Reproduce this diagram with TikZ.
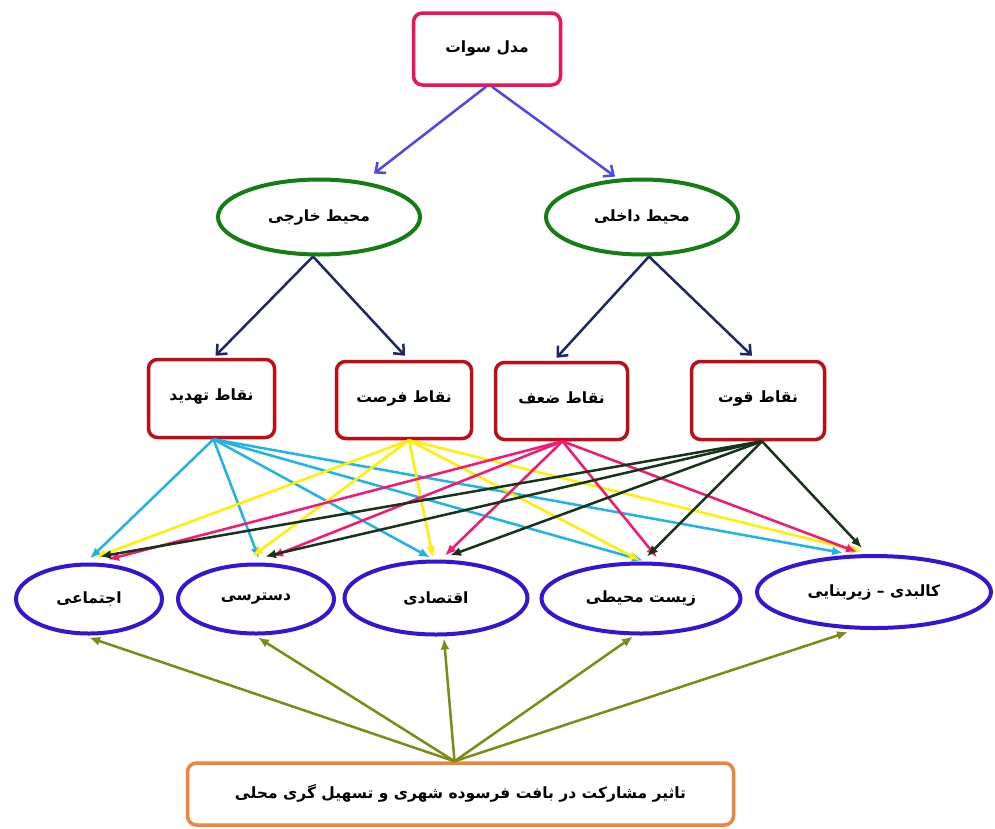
\documentclass[tikz,border=0pt]{standalone}
\usepackage{fontspec}
\newfontfamily\fafont[Script=Arabic]{DejaVu Sans}
\TeXXeTstate=1
\usetikzlibrary{shapes.geometric,arrows.meta}
\newcommand{\fatxt}[1]{{\fafont\bfseries\fontsize{15.5}{18}\selectfont\beginR #1\endR}}
\definecolor{cTop}{RGB}{236,20,85}
\definecolor{cGreen}{RGB}{22,125,22}
\definecolor{cBlueArr}{RGB}{75,70,240}
\definecolor{cNavy}{RGB}{30,40,100}
\definecolor{cRed}{RGB}{192,12,22}
\definecolor{cCyan}{RGB}{30,180,232}
\definecolor{cYellow}{RGB}{255,240,0}
\definecolor{cPink}{RGB}{250,22,110}
\definecolor{cDkGreen}{RGB}{22,52,25}
\definecolor{cViolet}{RGB}{55,20,212}
\definecolor{cOlive}{RGB}{120,140,22}
\definecolor{cOrange}{RGB}{240,132,62}
\tikzset{
  topbox/.style={draw=cTop, line width=3.5pt, rounded corners=9pt, fill=white, inner sep=0pt},
  swotbox/.style={draw=cRed, line width=3.5pt, rounded corners=9pt, fill=white, inner sep=0pt},
  envell/.style={ellipse, draw=cGreen, line width=4pt, fill=white, inner sep=0pt},
  dimell/.style={ellipse, draw=cViolet, line width=4pt, fill=white, inner sep=0pt},
  basebox/.style={draw=cOrange, line width=3.5pt, rounded corners=9pt, fill=white, inner sep=0pt},
  barbarr/.style={line width=2.5pt, -{Straight Barb[length=8pt,width=14pt]}},
  fillarr/.style={line width=2.5pt, -{Latex[length=11pt,width=9pt]}},
}
\begin{document}
\begin{tikzpicture}[x=1pt,y=-1pt]
\useasboundingbox (0,0) rectangle (995,828);
\fill[white] (0,0) rectangle (995,828);

% nodes
\node[topbox, minimum width=147pt, minimum height=72pt] (top) at (487,49) {\raisebox{4pt}{\fatxt{مدل سوات}}};
\node[envell, minimum width=202pt, minimum height=75pt] (ext) at (319,217) {\fatxt{محیط خارجی}};
\node[envell, minimum width=192pt, minimum height=75pt] (int) at (642,217) {\fatxt{محیط داخلی}};

\node[swotbox, minimum width=126pt, minimum height=78pt] (T) at (211.5,398.5) {\raisebox{7pt}{\fatxt{نقاط تهدید}}};
\node[swotbox, minimum width=135pt, minimum height=77pt] (O) at (404,400) {\raisebox{7pt}{\fatxt{نقاط فرصت}}};
\node[swotbox, minimum width=132pt, minimum height=77pt] (W) at (561.5,401) {\raisebox{7pt}{\fatxt{نقاط ضعف}}};
\node[swotbox, minimum width=133pt, minimum height=78pt] (S) at (758,400.5) {\raisebox{7pt}{\fatxt{نقاط قوت}}};

\node[dimell, minimum width=146pt, minimum height=69pt] (e1) at (89,599) {\fatxt{اجتماعی}};
\node[dimell, minimum width=156pt, minimum height=69pt] (e2) at (256,599) {\fatxt{دسترسی}};
\node[dimell, minimum width=183pt, minimum height=73pt] (e3) at (436,598) {\fatxt{اقتصادی}};
\node[dimell, minimum width=199pt, minimum height=70pt] (e4) at (641,598.5) {\fatxt{زیست محیطی}};
\node[dimell, minimum width=234pt, minimum height=72pt] (e5) at (874,592) {\fatxt{کالبدی – زیربنایی}};

\node[basebox, minimum width=546pt, minimum height=62pt] (base) at (460.5,794) {\raisebox{5pt}{\fatxt{تاثیر مشارکت در بافت فرسوده شهری و تسهیل گری محلی}}};

% top level arrows
\draw[barbarr, cBlueArr] ([xshift=-1pt]top.south) -- ([xshift=55pt,yshift=4pt]ext.north);
\draw[barbarr, cBlueArr] ([xshift=5pt]top.south) -- ([xshift=-27pt,yshift=1pt]int.north);

\draw[barbarr, cNavy] ([xshift=-6pt]ext.south) -- ([xshift=4pt,yshift=2pt]T.north);
\draw[barbarr, cNavy] ([xshift=-6pt]ext.south) -- ([xshift=1pt,yshift=4pt]O.north);
\draw[barbarr, cNavy] ([xshift=7pt]int.south) -- ([xshift=-5pt,yshift=3pt]W.north);
\draw[barbarr, cNavy] ([xshift=7pt]int.south) -- ([xshift=-6pt,yshift=4pt]S.north);

% threats (cyan)
\draw[fillarr, cCyan] ([xshift=2pt]T.south) -- ([xshift=1pt,yshift=4pt]e1.north);
\draw[fillarr, cCyan] ([xshift=2pt]T.south) -- ([xshift=3pt,yshift=4pt]e2.north);
\draw[fillarr, cCyan] ([xshift=2pt]T.south) -- ([xshift=-6pt,yshift=2pt]e3.north);
\draw[fillarr, cCyan] ([xshift=2pt]T.south) -- ([xshift=2pt,yshift=1pt]e4.north);
\draw[fillarr, cCyan] ([xshift=2pt]T.south) -- ([xshift=-31pt,yshift=1pt]e5.north);

% opportunities (yellow)
\draw[fillarr, cYellow] ([xshift=5pt]O.south) -- ([xshift=6pt,yshift=5pt]e1.north);
\draw[fillarr, cYellow] ([xshift=5pt]O.south) -- ([xshift=-4pt,yshift=6pt]e2.north);
\draw[fillarr, cYellow] ([xshift=5pt]O.south) -- ([xshift=-3pt,yshift=2pt]e3.north);
\draw[fillarr, cYellow] ([xshift=5pt]O.south) -- ([xshift=-1pt,yshift=1pt]e4.north);
\draw[fillarr, cYellow] ([xshift=5pt]O.south) -- ([xshift=-12pt,yshift=2pt]e5.north);

% weaknesses (pink)
\draw[fillarr, cPink] ([xshift=1pt]W.south) -- ([xshift=19pt,yshift=3pt]e1.north);
\draw[fillarr, cPink] ([xshift=1pt]W.south) -- ([xshift=16pt,yshift=6pt]e2.north);
\draw[fillarr, cPink] ([xshift=1pt]W.south) -- ([xshift=9pt,yshift=4pt]e3.north);
\draw[fillarr, cPink] ([xshift=1pt]W.south) -- ([xshift=16pt,yshift=4pt]e4.north);
\draw[fillarr, cPink] ([xshift=1pt]W.south) -- ([xshift=-17pt,yshift=2pt]e5.north);

% strengths (dark green)
\draw[fillarr, cDkGreen] ([xshift=4pt]S.south) -- ([xshift=11pt,yshift=6pt]e1.north);
\draw[fillarr, cDkGreen] ([xshift=4pt]S.south) -- ([xshift=9pt,yshift=6pt]e2.north);
\draw[fillarr, cDkGreen] ([xshift=4pt]S.south) -- ([xshift=14pt,yshift=4pt]e3.north);
\draw[fillarr, cDkGreen] ([xshift=4pt]S.south) -- ([xshift=6pt,yshift=5pt]e4.north);
\draw[fillarr, cDkGreen] ([xshift=4pt]S.south) -- ([xshift=-12pt,yshift=6pt]e5.north);

% base (olive)
\draw[fillarr, cOlive] ([xshift=-6pt]base.north) -- ([xshift=0pt,yshift=-2pt]e1.south);
\draw[fillarr, cOlive] ([xshift=-6pt]base.north) -- ([xshift=2pt,yshift=-2pt]e2.south);
\draw[fillarr, cOlive] ([xshift=-6pt]base.north) -- ([xshift=8pt,yshift=-2pt]e3.south);
\draw[fillarr, cOlive] ([xshift=-6pt]base.north) -- ([xshift=-8pt,yshift=-1pt]e4.south);
\draw[fillarr, cOlive] ([xshift=-6pt]base.north) -- ([xshift=-26pt,yshift=-2pt]e5.south);
\end{tikzpicture}
\end{document}
